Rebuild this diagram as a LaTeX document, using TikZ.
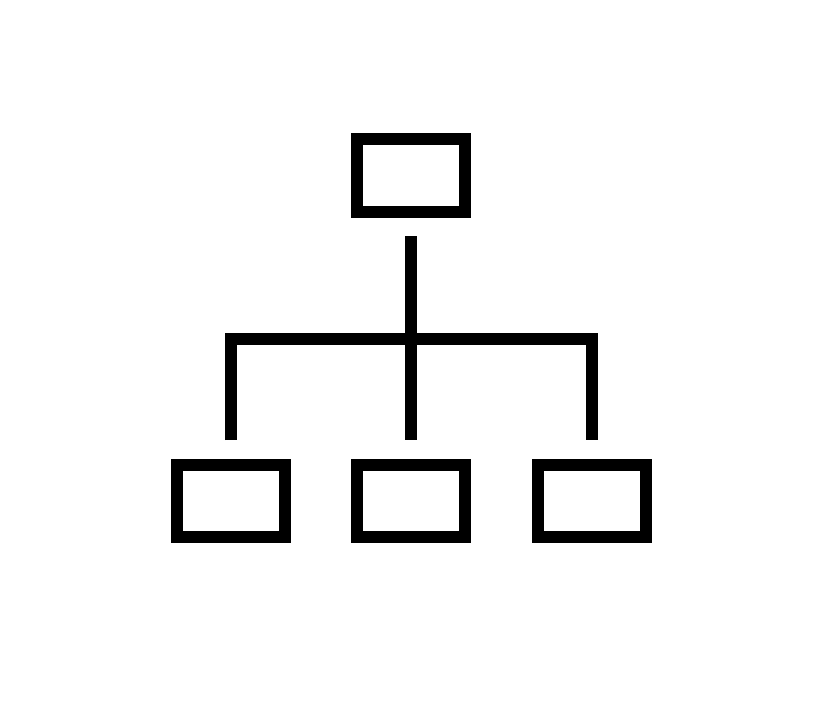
\documentclass[tikz,border=0pt]{standalone}
\begin{document}
\begin{tikzpicture}[x=1pt,y=-1pt,
  box/.style={draw=black,line width=12pt,rectangle,minimum width=108pt,minimum height=72pt,inner sep=0pt,outer sep=0pt},
  link/.style={draw=black,line width=12pt,line cap=butt,line join=miter}]
\useasboundingbox (0,0) rectangle (838,706);
\node[box] (top) at (411,175.5) {};
\node[box] (b1) at (230.5,500.5) {};
\node[box] (b2) at (411,500.5) {};
\node[box] (b3) at (591.5,500.5) {};
\coordinate (tstart) at (411,236);
\coordinate (j2) at (411,440);
\coordinate (h1) at (230.5,338.5);
\coordinate (h3) at (591.5,338.5);
\coordinate (j1) at (230.5,440);
\coordinate (j3) at (591.5,440);
\draw[link] (tstart) -- (j2);
\draw[link] (j1) -- (h1) -- (h3) -- (j3);
\end{tikzpicture}
\end{document}
